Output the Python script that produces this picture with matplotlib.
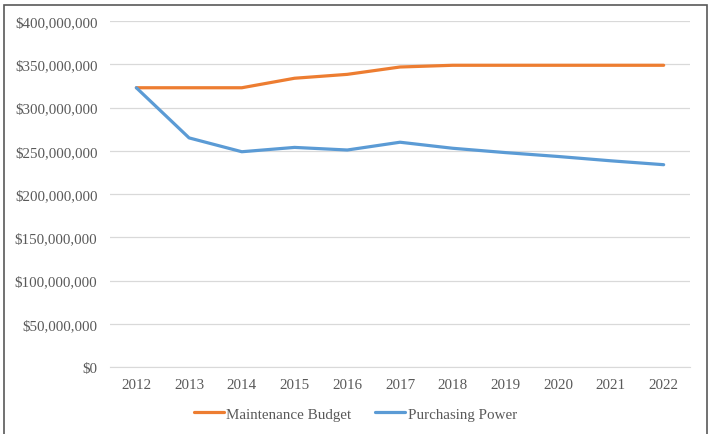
import matplotlib.pyplot as plt
from matplotlib.patches import Rectangle
from matplotlib.ticker import FuncFormatter

years = ["2012", "2013", "2014", "2015", "2016", "2017", "2018", "2019", "2020", "2021", "2022"]
# values in dollars
maintenance_budget = [323e6, 323e6, 323e6, 334e6, 338.5e6, 347e6, 349e6, 349e6, 349e6, 349e6, 349e6]
purchasing_power = [323e6, 265e6, 249e6, 254e6, 251e6, 260e6, 253e6, 248e6, 243.5e6, 238.5e6, 234e6]

plt.rcParams['font.family'] = ['Liberation Serif', 'DejaVu Serif']
text_col = "#595959"

fig = plt.figure(figsize=(7.11, 4.35), dpi=100)
ax = fig.add_axes([0.1547, 0.154, 0.8158, 0.795])

x = range(len(years))
ax.plot(x, maintenance_budget, color="#ED7D31", lw=2.3, label="Maintenance Budget", solid_capstyle="round")
ax.plot(x, purchasing_power, color="#5B9BD5", lw=2.3, label="Purchasing Power", solid_capstyle="round")

ax.set_xlim(-0.5, len(years) - 0.5)
ax.set_ylim(0, 400e6)
ax.set_yticks(range(0, 400_000_001, 50_000_000))
ax.yaxis.set_major_formatter(FuncFormatter(lambda v, p: "${:,.0f}".format(v)))
ax.set_xticks(list(x))
ax.set_xticklabels(years)
ax.grid(axis="y", color="#D9D9D9", lw=0.9)
ax.set_axisbelow(True)
for s in ["top", "right", "left"]:
    ax.spines[s].set_visible(False)
ax.spines["bottom"].set_color("#D9D9D9")
ax.tick_params(length=0, labelsize=10.8, colors=text_col, pad=8)
ax.tick_params(axis="y", pad=9)

leg = fig.legend(loc="center", bbox_to_anchor=(0.5, 0.046), ncol=2, frameon=False,
                 fontsize=10.8, handlelength=2.0, handletextpad=0.15, columnspacing=1.6)
for t in leg.get_texts():
    t.set_color(text_col)

# outer chart border
fig.patches.append(Rectangle((0.0056, -0.05), 0.9884, 1.036, transform=fig.transFigure,
                             fill=False, edgecolor="#595959", lw=1.2))

fig.savefig("out.png", dpi=100)
